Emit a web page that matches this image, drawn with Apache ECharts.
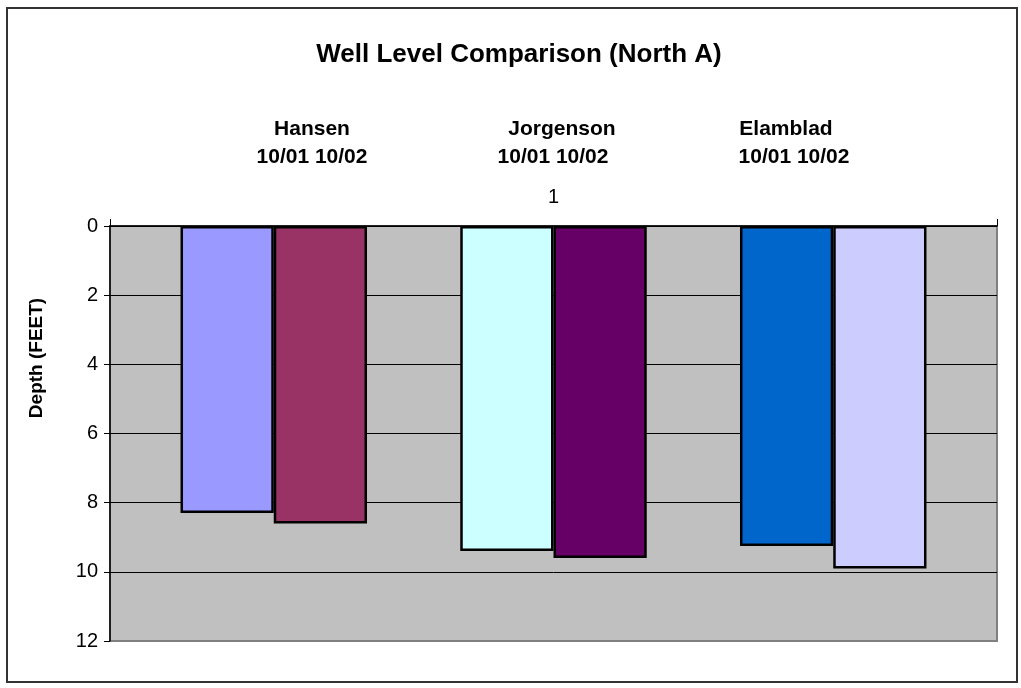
<!DOCTYPE html>
<html>
<head>
<meta charset="utf-8">
<title>Well Level Comparison (North A)</title>
<script src="https://cdn.jsdelivr.net/npm/echarts@6/dist/echarts.min.js"></script>
<style>
  html, body { margin: 0; padding: 0; background: #ffffff; }
  #chart { width: 1021px; height: 688px; }
</style>
</head>
<body>
<div id="chart"></div>
<script>
// Category and depth readings (feet below reference) for each well and date
const categories = ['1'];
const wells = ['Hansen', 'Jorgenson', 'Elamblad'];
const dates = ['10/01', '10/02'];
const hansen = [8.3, 8.6];
const jorgenson = [9.4, 9.6];
const elamblad = [9.25, 9.9];
const depthTicks = [0, 2, 4, 6, 8, 10, 12];

const wellColors = {
  Hansen: ['#9999FF', '#993366'],
  Jorgenson: ['#CCFFFF', '#660066'],
  Elamblad: ['#0066CC', '#CCCCFF']
};
const wellValues = { Hansen: hansen, Jorgenson: jorgenson, Elamblad: elamblad };

// Build bar series; an empty spacer series separates the well pairs
const series = [];
wells.forEach(function (w, wi) {
  dates.forEach(function (d, di) {
    series.push({
      type: 'bar',
      name: w + ' ' + d,
      data: [wellValues[w][di]],
      barGap: '0%',
      barCategoryGap: '15.9%',
      itemStyle: {
        color: wellColors[w][di],
        borderColor: '#000000',
        borderWidth: 2.5
      },
      emphasis: { disabled: true }
    });
  });
  if (wi < wells.length - 1) {
    series.push({
      type: 'bar',
      data: ['-'],
      barGap: '0%',
      barCategoryGap: '15.9%',
      silent: true
    });
  }
});

// Well name / date headings above the plot
const headings = [
  { text: 'Hansen', x: 312, y: 129 },
  { text: dates.join(' '), x: 312, y: 157 },
  { text: 'Jorgenson', x: 562, y: 129 },
  { text: dates.join(' '), x: 553, y: 157 },
  { text: 'Elamblad', x: 786, y: 129 },
  { text: dates.join(' '), x: 794, y: 157 }
];

const splitColors = depthTicks.map(function (t, i) {
  return i === depthTicks.length - 1 ? 'rgba(0,0,0,0)' : '#000000';
});

const chart = echarts.init(document.getElementById('chart'), null, { renderer: 'canvas' });
chart.setOption({
  animation: false,
  backgroundColor: '#ffffff',
  textStyle: { fontFamily: 'Arial, "Liberation Sans", sans-serif' },
  title: {
    text: 'Well Level Comparison (North A)',
    left: 514,
    top: 37,
    textAlign: 'center',
    textStyle: {
      fontFamily: 'Arial, "Liberation Sans", sans-serif',
      fontSize: 26,
      fontWeight: 'bold',
      color: '#000000'
    }
  },
  grid: {
    left: 110,
    top: 226,
    right: 24,
    bottom: 47,
    show: true,
    backgroundColor: '#C0C0C0',
    borderColor: '#808080',
    borderWidth: 2
  },
  xAxis: {
    type: 'category',
    data: categories,
    position: 'top',
    axisLine: { show: true, lineStyle: { color: '#000000', width: 1.5 } },
    axisTick: { show: true, length: 7, lineStyle: { color: '#000000', width: 1 } },
    axisLabel: { margin: 19, fontSize: 20, color: '#000000' },
    splitLine: { show: false }
  },
  yAxis: {
    type: 'value',
    inverse: true,
    min: 0,
    max: 12,
    interval: 2,
    axisLine: { show: true, lineStyle: { color: '#000000', width: 1.5 } },
    axisTick: { show: true, length: 6, lineStyle: { color: '#000000', width: 1 } },
    axisLabel: { margin: 12, fontSize: 20, color: '#000000' },
    splitLine: { show: true, lineStyle: { color: splitColors, width: 1 } }
  },
  graphic: [
    {
      type: 'rect',
      shape: { x: 7, y: 8, width: 1010, height: 674 },
      style: { fill: 'none', stroke: '#333333', lineWidth: 2 },
      silent: true,
      z: -10
    },
    {
      // vertical axis title
      type: 'text',
      x: 37,
      y: 358,
      rotation: Math.PI / 2,
      style: {
        text: 'Depth (FEET)',
        fill: '#000000',
        font: 'bold 19px Arial, "Liberation Sans", sans-serif',
        textAlign: 'center',
        textVerticalAlign: 'middle'
      },
      silent: true
    }
  ].concat(headings.map(function (h) {
    return {
      type: 'text',
      x: h.x,
      y: h.y,
      style: {
        text: h.text,
        fill: '#000000',
        font: 'bold 21px Arial, "Liberation Sans", sans-serif',
        textAlign: 'center',
        textVerticalAlign: 'middle'
      },
      silent: true
    };
  })),
  series: series
});
</script>
</body>
</html>
